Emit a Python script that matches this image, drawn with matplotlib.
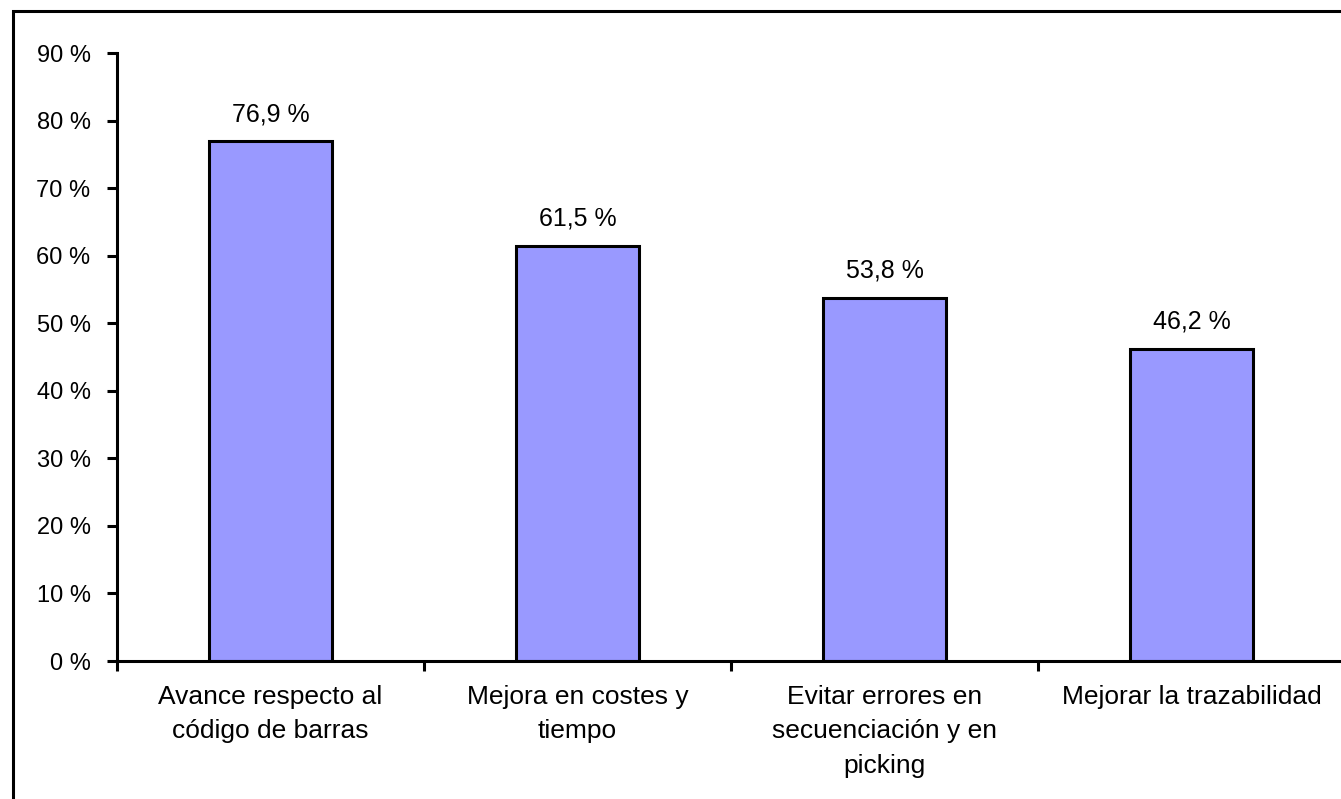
import matplotlib.pyplot as plt
from matplotlib.patches import Rectangle

plt.rcParams['font.family'] = ['Liberation Sans', 'DejaVu Sans']

categories = ["Avance respecto al\ncódigo de barras",
              "Mejora en costes y\ntiempo",
              "Evitar errores en\nsecuenciación y en\npicking",
              "Mejorar la trazabilidad"]
values = [76.9, 61.5, 53.8, 46.2]
yticks = [0, 10, 20, 30, 40, 50, 60, 70, 80, 90]

W, H = 1341, 799
fig = plt.figure(figsize=(W / 100, H / 100), dpi=100)

# outer chart border (only left and top visible, the rest is cut off)
fig.patches.append(Rectangle((12.5 / W, -0.1), 1.2, (H - 11.5) / H + 0.1,
                             transform=fig.transFigure, fill=False,
                             edgecolor='black', linewidth=2.2))

ax = fig.add_axes([117 / W, (H - 661) / H, (1345 - 117) / W, (661 - 53) / H])
x = range(len(values))
ax.bar(x, values, width=0.4, color='#9999FF', edgecolor='black', linewidth=2.2)

for xi, v in zip(x, values):
    ax.annotate(("%.1f %%" % v).replace('.', ','), (xi, v), xytext=(0, 11),
                textcoords='offset points', ha='center', va='bottom', fontsize=18)

ax.set_xlim(-0.5, len(values) - 0.5)
ax.set_ylim(0, 90)
ax.set_yticks(yticks)
ax.set_yticklabels(["%d %%" % t for t in yticks], fontsize=17)
ax.set_xticks(list(x))
ax.set_xticklabels(categories, fontsize=19, linespacing=1.55)
ax.set_xticks([i - 0.5 for i in range(len(values) + 1)], minor=True)
ax.tick_params(axis='x', which='major', length=0, pad=17)
ax.tick_params(axis='x', which='minor', length=7, width=2.2, direction='out')
ax.tick_params(axis='y', length=7, width=2.2, direction='out', pad=12)

for s in ['top', 'right']:
    ax.spines[s].set_visible(False)
for s in ['left', 'bottom']:
    ax.spines[s].set_linewidth(2.2)

fig.savefig('out.png', dpi=100)
